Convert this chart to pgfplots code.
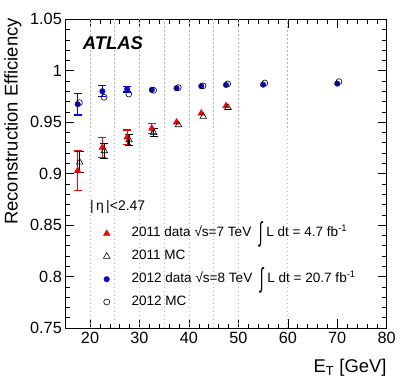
\documentclass[border=0pt]{standalone}
\usepackage{fontspec}
\setmainfont{Liberation Sans}
\usepackage{graphicx}
\usepackage{pgfplots}
\pgfplotsset{compat=1.18}

\definecolor{dotblue}{RGB}{10,10,200}
\definecolor{gridgray}{RGB}{185,185,185}

\newcommand{\bigint}{\raisebox{-5bp}{\scalebox{1}[2.0]{∫}}}

\pgfplotsset{
  errs/.style={error bars/.cd, y dir=both, y explicit, error mark=-,
    error bar style={draw=#1, line width=1.2bp},
    error mark options={rotate=90, draw=#1, mark size=4bp, line width=1.2bp}},
  d11/.style={only marks, red, mark=triangle*, mark size=3.8bp, mark options={fill=red, draw=red}},
  mc11/.style={only marks, black, mark=triangle, mark size=3.8bp, mark options={draw=black, fill=none, line width=0.6bp}},
  d12/.style={only marks, blue, mark=*, mark size=2.8bp, mark options={fill=dotblue, draw=dotblue}},
  mc12/.style={only marks, black, mark=o, mark size=3bp, mark options={draw=black, fill=none, line width=0.6bp}},
}

\begin{document}
\begin{tikzpicture}
\useasboundingbox (-65.3bp,-64bp) rectangle (341.7bp,328bp);
\begin{axis}[
    at={(0,0)}, anchor=south west,
    scale only axis, width=321.4bp, height=308.7bp,
    xmin=15, xmax=80, ymin=0.75, ymax=1.05,
    xtick={20,30,40,50,60,70,80},
    ytick={0.75,0.8,0.85,0.9,0.95,1,1.05},
    minor x tick num=4, minor y tick num=4,
    major tick length=9bp, minor tick length=4.5bp,
    tick style={black, line width=0.6bp},
    axis line style={line width=0.8bp},
    /pgf/number format/assume math mode=true,
    ticklabel style={font=\fontsize{16.3}{16.3}\selectfont, inner sep=0pt},
    yticklabel style={/pgf/number format/fixed, /pgf/number format/precision=2, xshift=-3.3bp},
    xticklabel style={yshift=-3.7bp},
    extra x ticks={20,25,30,35,40,45,50,60},
    extra x tick labels={},
    extra x tick style={grid=major, major tick length=0pt,
        major grid style={gridgray, dash pattern=on 1.5bp off 2.5bp, line width=0.7bp}},
    label style={font=\fontsize{18.5}{18.5}\selectfont, inner sep=0pt},
    xlabel={E\textsubscript{T} [GeV]},
    xlabel style={at={(axis description cs:1,-0.1004)}, anchor=north east},
    ylabel={Reconstruction Efficiency},
    ylabel style={at={(axis description cs:-0.1357,1.004)}, anchor=south east},
    legend style={at={(axis cs:22.67,0.8085)}, anchor=west, draw=none, fill=none,
        font=\fontsize{13.6}{13.6}\selectfont, inner sep=0pt,
        nodes={inner sep=0pt, text height=9.5bp, text depth=3bp},
        row sep=10.3bp, column sep=21.5bp},
    legend cell align=left,
]

% 2011 data
\addplot[d11, errs=red] coordinates {
    (17.5,0.9029) +- (0,0.0191)
    (22.5,0.9255) +- (0,0.0097)
    (27.5,0.9354) +- (0,0.0070)
    (32.5,0.9440) +- (0,0.0050)
};
\addlegendentry{2011 data √s=7 TeV \ \bigint\ L dt = 4.7 fb\textsuperscript{-1}}
\addplot[d11, forget plot] coordinates {
    (37.5,0.9500) (42.5,0.9587) (47.5,0.9658)
};

% 2011 MC
\addplot[mc11, errs=black] coordinates {
    (17.9,0.9111) +- (0,0.0102)
    (22.9,0.9222) +- (0,0.0073)
    (27.9,0.9327) +- (0,0.0050)
    (32.9,0.9398) +- (0,0.0040)
};
\addlegendentry{2011 MC}
\addplot[mc11, forget plot] coordinates {
    (37.9,0.9474) (42.9,0.9555) (47.9,0.9642)
};

% 2012 data
\addplot[d12, errs=blue] coordinates {
    (17.5,0.9675) +- (0,0.0105)
    (22.5,0.9801) +- (0,0.0053)
    (27.5,0.9820) +- (0,0.0027)
};
\addlegendentry{2012 data √s=8 TeV \ \bigint\ L dt = 20.7 fb\textsuperscript{-1}}
\addplot[d12, forget plot] coordinates {
    (32.5,0.9814) (37.5,0.9830) (42.5,0.9850) (47.5,0.9862)
    (55.0,0.9865) (70.0,0.9875)
};

% 2012 MC
\addplot[mc12] coordinates {
    (17.85,0.9690) (22.85,0.9742) (27.85,0.9774) (32.85,0.9810)
    (37.85,0.9836) (42.85,0.9853) (47.85,0.9872) (55.35,0.9881)
    (70.35,0.9894)
};
\addlegendentry{2012 MC}

\node[anchor=west, inner sep=0pt, font=\fontsize{18.5}{18.5}\selectfont\bfseries\itshape]
    at (axis cs:18.52,1.0267) {ATLAS};
\node[anchor=west, inner sep=0pt, font=\fontsize{14}{14}\selectfont]
    at (axis cs:20.0,0.8676) {|\,η\,|<2.47};
\end{axis}
\end{tikzpicture}
\end{document}
